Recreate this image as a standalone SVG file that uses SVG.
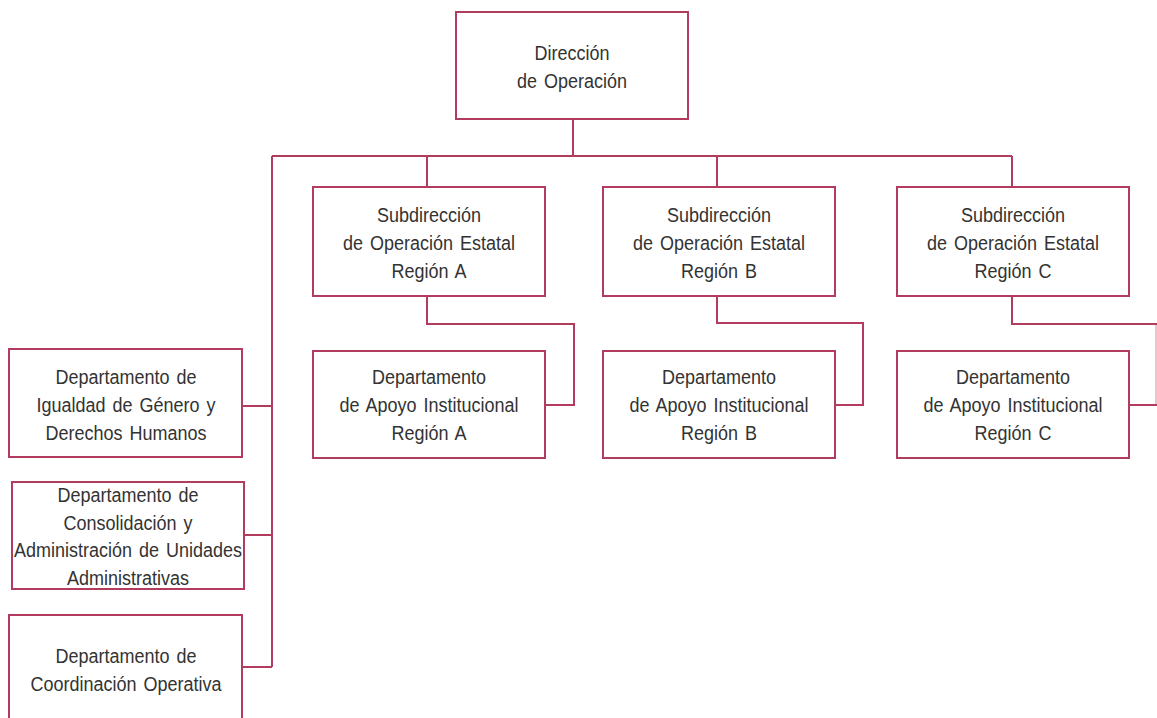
<svg xmlns="http://www.w3.org/2000/svg" width="1157" height="718" viewBox="0 0 1157 718">
<style>
.box{fill:#fff;stroke:#B23C5E;stroke-width:2}
.ln{fill:none;stroke:#B23C5E;stroke-width:2}
text{font-family:"Liberation Sans",Arial,sans-serif;font-size:18px;fill:#333;text-anchor:middle;word-spacing:2px}
</style>
<rect width="1157" height="718" fill="#fff"/>
<g id="connectors">
<path class="ln" d="M573 119V156M272 156H1012M427 156V187M717 156V187M1012 156V187M272 156V667M242 406H272M244 535H272M242 667H272"/>
<path class="ln" d="M427 296V324H574V405H545"/>
<path class="ln" d="M717 296V323H863V405H835"/>
<path class="ln" d="M1012 296V324H1158"/>
<path class="ln" d="M1129 405H1158"/>
<path class="ln" d="M1156 324V405" stroke-opacity="0.3"/>
</g>
<g id="direccion">
<rect class="box" x="456" y="12" width="232" height="107"/>
<text transform="matrix(1 0 0 1.17 572 60)"><tspan x="0" y="0">Dirección</tspan><tspan x="0" dy="24">de Operación</tspan></text>
</g>
<g id="subdir-a">
<rect class="box" x="313" y="187" width="232" height="109"/>
<text transform="matrix(1 0 0 1.17 429 222)"><tspan x="0" y="0">Subdirección</tspan><tspan x="0" dy="24">de Operación Estatal</tspan><tspan x="0" dy="24">Región A</tspan></text>
</g>
<g id="subdir-b">
<rect class="box" x="603" y="187" width="232" height="109"/>
<text transform="matrix(1 0 0 1.17 719 222)"><tspan x="0" y="0">Subdirección</tspan><tspan x="0" dy="24">de Operación Estatal</tspan><tspan x="0" dy="24">Región B</tspan></text>
</g>
<g id="subdir-c">
<rect class="box" x="897" y="187" width="232" height="109"/>
<text transform="matrix(1 0 0 1.17 1013 222)"><tspan x="0" y="0">Subdirección</tspan><tspan x="0" dy="24">de Operación Estatal</tspan><tspan x="0" dy="24">Región C</tspan></text>
</g>
<g id="depto-a">
<rect class="box" x="313" y="351" width="232" height="107"/>
<text transform="matrix(1 0 0 1.17 429 384)"><tspan x="0" y="0">Departamento</tspan><tspan x="0" dy="24">de Apoyo Institucional</tspan><tspan x="0" dy="24">Región A</tspan></text>
</g>
<g id="depto-b">
<rect class="box" x="603" y="351" width="232" height="107"/>
<text transform="matrix(1 0 0 1.17 719 384)"><tspan x="0" y="0">Departamento</tspan><tspan x="0" dy="24">de Apoyo Institucional</tspan><tspan x="0" dy="24">Región B</tspan></text>
</g>
<g id="depto-c">
<rect class="box" x="897" y="351" width="232" height="107"/>
<text transform="matrix(1 0 0 1.17 1013 384)"><tspan x="0" y="0">Departamento</tspan><tspan x="0" dy="24">de Apoyo Institucional</tspan><tspan x="0" dy="24">Región C</tspan></text>
</g>
<g id="depto-igualdad">
<rect class="box" x="9" y="349" width="233" height="108"/>
<text transform="matrix(1 0 0 1.17 126 384)"><tspan x="0" y="0">Departamento de</tspan><tspan x="0" dy="24">Igualdad de Género y</tspan><tspan x="0" dy="24">Derechos Humanos</tspan></text>
</g>
<g id="depto-consolidacion">
<rect class="box" x="12" y="482" width="232" height="107"/>
<text transform="matrix(1 0 0 1.17 128 502)"><tspan x="0" y="0">Departamento de</tspan><tspan x="0" dy="23.7">Consolidación y</tspan><tspan x="0" dy="23.7">Administración de Unidades</tspan><tspan x="0" dy="23.7">Administrativas</tspan></text>
</g>
<g id="depto-coordinacion">
<rect class="box" x="9" y="615" width="233" height="120"/>
<text transform="matrix(1 0 0 1.17 126 663)"><tspan x="0" y="0">Departamento de</tspan><tspan x="0" dy="24">Coordinación Operativa</tspan></text>
</g>
</svg>
